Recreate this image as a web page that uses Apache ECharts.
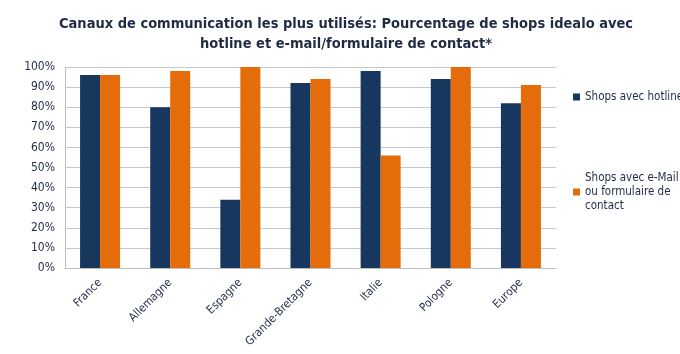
<!DOCTYPE html>
<html>
<head>
<meta charset="utf-8">
<script src="https://cdn.jsdelivr.net/npm/echarts@6/dist/echarts.min.js"></script>
<style>
  html, body { margin: 0; padding: 0; background: #fff; }
  #chart { width: 680px; height: 354px; }
</style>
</head>
<body>
<div id="chart"></div>
<script>
// pays
const categories = ['France', 'Allemagne', 'Espagne', 'Grande-Bretagne', 'Italie', 'Pologne', 'Europe'];
// % shops avec hotline
const hotline = [96, 80, 34, 92, 98, 94, 82];
// % shops avec e-mail / formulaire
const emailForm = [96, 98, 100, 94, 56, 100, 91];
const yTicks = [0, 10, 20, 30, 40, 50, 60, 70, 80, 90, 100];

const txt = '#1f2a44';
const font = '"DejaVu Sans Condensed", "DejaVu Sans", sans-serif';

const myChart = echarts.init(document.getElementById('chart'));
myChart.setOption({
  animation: false,
  textStyle: { fontFamily: font },
  title: {
    text: 'Canaux de communication les plus utilisés: Pourcentage de shops idealo avec\nhotline et e-mail/formulaire de contact*',
    left: 341,
    textAlign: 'center',
    top: 9,
    textStyle: { fontSize: 14.5, fontWeight: 'bold', color: txt, lineHeight: 20, fontFamily: font }
  },
  grid: { left: 65, top: 67, width: 491, height: 201, containLabel: false },
  legend: [
    {
      orient: 'vertical', left: 568, top: 86, itemWidth: 7, itemHeight: 7, icon: 'rect',
      data: ['Shops avec hotline'],
      textStyle: { fontSize: 11.5, color: txt, fontFamily: font }
    },
    {
      orient: 'vertical', left: 568, top: 166, itemWidth: 7, itemHeight: 7, icon: 'rect',
      data: ['Shops avec e-Mail ou formulaire de contact'],
      formatter: () => 'Shops avec e-Mail\nou formulaire de\ncontact',
      textStyle: { fontSize: 11.5, color: txt, lineHeight: 14, fontFamily: font }
    }
  ],
  xAxis: {
    type: 'category',
    data: categories,
    axisTick: { show: false },
    axisLine: { lineStyle: { color: '#bfbfbf' } },
    axisLabel: { rotate: 45, fontSize: 11.5, color: txt, margin: 13, interval: 0 }
  },
  yAxis: {
    type: 'value',
    min: yTicks[0],
    max: yTicks[yTicks.length - 1],
    interval: 10,
    axisLine: { show: true, lineStyle: { color: '#bfbfbf' } },
    splitLine: { lineStyle: { color: '#c8c8c8' } },
    axisLabel: { formatter: '{value}%', fontSize: 12, color: txt, margin: 10 }
  },
  series: [
    {
      name: 'Shops avec hotline', type: 'bar', data: hotline,
      barWidth: 20, barGap: '0%',
      itemStyle: { color: '#17375e' }
    },
    {
      name: 'Shops avec e-Mail ou formulaire de contact', type: 'bar', data: emailForm,
      barWidth: 20, barGap: '0%',
      itemStyle: { color: '#e46c0a' }
    }
  ]
});
</script>
</body>
</html>
